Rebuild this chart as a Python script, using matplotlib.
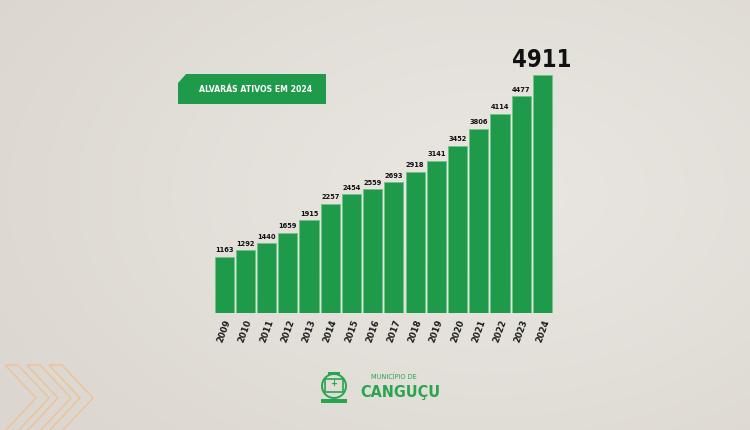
import matplotlib
matplotlib.use("Agg")
import matplotlib.pyplot as plt
import numpy as np
from matplotlib.patches import Polygon, Circle, Rectangle

years = ["2009", "2010", "2011", "2012", "2013", "2014", "2015", "2016",
         "2017", "2018", "2019", "2020", "2021", "2022", "2023", "2024"]
values = [1163, 1292, 1440, 1659, 1915, 2257, 2454, 2559,
          2693, 2918, 3141, 3452, 3806, 4114, 4477, 4911]
title_text = "ALVARÁS ATIVOS EM 2024"

cond = dict(family="DejaVu Sans", stretch="condensed")

W, H = 750, 430
fig = plt.figure(figsize=(7.5, 4.3), dpi=100)

# background gradient (lighter toward centre-right)
bg = fig.add_axes([0, 0, 1, 1])
bg.set_axis_off()
xx = np.linspace(0, 1, 300)
yy = np.linspace(0, 1, 200)
X, Y = np.meshgrid(xx, yy)
c0 = np.array([219, 214, 207]) / 255
c1 = np.array([234, 231, 226]) / 255
d = np.sqrt(((X - 0.65) / 0.8) ** 2 + ((Y - 0.45) / 0.9) ** 2)
t = np.clip(1 - d, 0, 1)[..., None]
img = c0 * (1 - t) + c1 * t
bg.imshow(img, extent=[0, W, 0, H], origin="lower", aspect="auto")
bg.set_xlim(0, W)
bg.set_ylim(H, 0)

# chevrons bottom-left
orange = "#f0c08e"
for i in range(3):
    x0 = 5 + i * 22
    pts = [(x0, 365), (x0 + 13, 365), (x0 + 44, 398), (x0 + 13, 431), (x0, 431), (x0 + 31, 398)]
    bg.add_patch(Polygon(pts, closed=True, fill=False, ec=orange, lw=0.9))

# title box
green = "#1f9a4b"
box = [(178, 83), (186, 74), (326, 74), (326, 104), (178, 104)]
bg.add_patch(Polygon(box, closed=True, fc=green, ec="none"))
bg.text(256, 89.5, title_text, color="white", fontsize=6.2, fontweight="bold",
        ha="center", va="center", **cond)

# logo
lg = "#2aa54f"
bg.add_patch(Circle((334, 386), 12, fc="none", ec=lg, lw=1.4))
bg.add_patch(Rectangle((325, 379), 18, 13, fc="none", ec=lg, lw=1.2))
bg.add_patch(Rectangle((328, 372), 12, 3, fc=lg, ec="none"))
bg.add_patch(Rectangle((321, 399), 26, 4, fc=lg, ec="none"))
bg.text(334, 384, "+", color=lg, fontsize=6, ha="center", va="center", fontweight="bold")
bg.text(371, 377, "MUNICÍPIO DE", color=lg, fontsize=5.2, ha="left", va="center", **cond)
bg.text(360, 392.5, "CANGUÇU", color=lg, fontsize=11.5, ha="left", va="center",
        fontweight="bold", **cond)

# bar chart
left = 213.5 / W
bottom = (H - 313) / H
width = 339.5 / W
height = 238 / H
ax = fig.add_axes([left, bottom, width, height])
ax.patch.set_alpha(0)
xpos = np.arange(len(years))
ax.bar(xpos, values, width=0.9, color=green, edgecolor="#6fc38a", linewidth=0.6)
ax.set_xlim(-0.5, len(years) - 0.5)
ax.set_ylim(0, max(values))
for s in ax.spines.values():
    s.set_visible(False)
ax.set_yticks([])
ax.set_xticks(xpos)
ax.set_xticklabels(years, rotation=70, ha="right", va="top", rotation_mode="anchor",
                   fontsize=6.8, fontweight="bold", color="#1a1a1a", **cond)
ax.tick_params(axis="x", length=0, pad=4)

for i, v in enumerate(values[:-1]):
    ax.text(i, v + 70, str(v), ha="center", va="bottom", fontsize=5.3,
            fontweight="bold", color="#111111", **cond)
ax.text(len(values) - 1 - 0.05, values[-1] + 55, str(values[-1]), ha="center", va="bottom",
        fontsize=17, fontweight="bold", color="#111111", clip_on=False, **cond)

fig.savefig("out.png", dpi=100)
